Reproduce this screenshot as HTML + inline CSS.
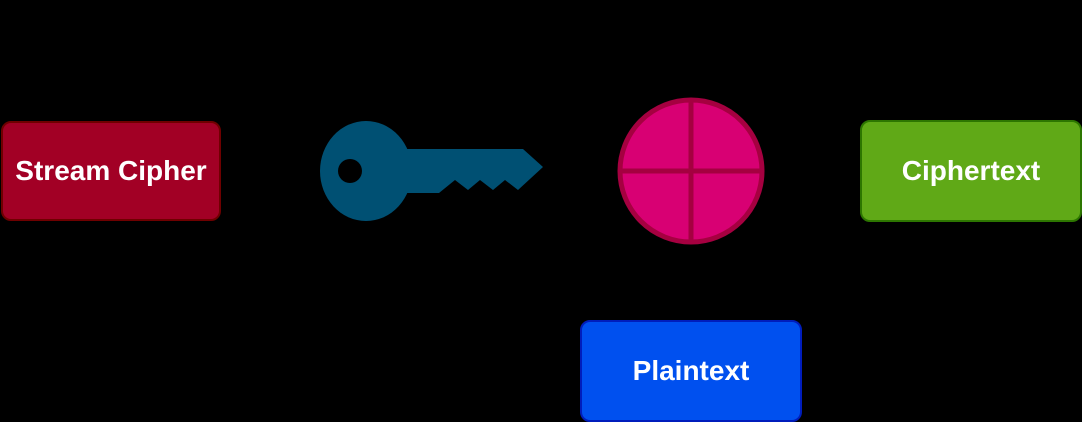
<!DOCTYPE html>
<html><head><style>
body{margin:0;background:#000;width:1082px;height:422px;overflow:hidden;font-family:"Liberation Sans",sans-serif;}
.box{position:absolute;box-sizing:border-box;border-radius:10px;color:#fff;font-weight:bold;font-size:28px;display:flex;align-items:center;justify-content:center;border:2px solid}
.lbl{position:absolute;color:#000;font-size:16px;}
</style></head><body>
<div class="box" style="left:1px;top:121px;width:220px;height:100px;background:#a20025;border-color:#6f0000">Stream Cipher</div>
<div class="box" style="left:860px;top:120px;width:222px;height:102px;background:#60a917;border-color:#2d7600">Ciphertext</div>
<div class="box" style="left:580px;top:320px;width:222px;height:102px;background:#0050ef;border-color:#001dbc">Plaintext</div>
<svg width="1082" height="422" style="position:absolute;left:0;top:0">
<ellipse cx="366" cy="171" rx="46" ry="50" fill="#005073"/>
<polygon points="400,149 523,149 543,167 518,190 505,180 493,190 480,180 468,190 455,180 439,193 400,193" fill="#005073"/>
<circle cx="350" cy="171" r="12" fill="#000"/>
<circle cx="691" cy="171" r="71" fill="#d80073" stroke="#a50040" stroke-width="5"/>
<line x1="691" y1="100" x2="691" y2="242" stroke="#a50040" stroke-width="5"/>
<line x1="620" y1="171" x2="762" y2="171" stroke="#a50040" stroke-width="5"/>
</svg>
<div class="lbl" style="left:95px;top:12px">Nonce</div>
<div class="lbl" style="left:345px;top:254px">Keystream</div>
<div class="lbl" style="left:40px;top:313px">Secret Key</div>
</body></html>
